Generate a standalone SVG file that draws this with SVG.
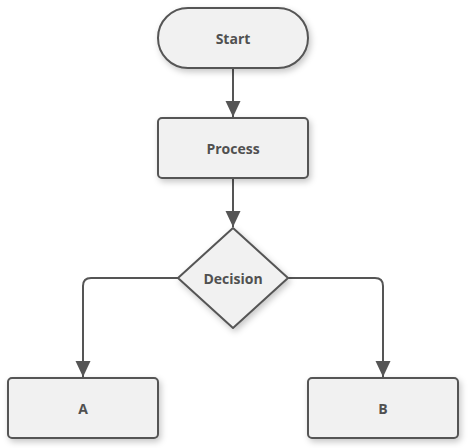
<svg xmlns="http://www.w3.org/2000/svg" width="468" height="448" viewBox="0 0 468 448">
<defs>
<filter id="sh" x="-20%" y="-20%" width="150%" height="160%">
<feDropShadow dx="2" dy="3" stdDeviation="3" flood-color="#000" flood-opacity="0.22"/>
</filter>
<marker id="arr" markerUnits="userSpaceOnUse" markerWidth="16" markerHeight="20" refX="16" refY="7.5" orient="auto" viewBox="0 0 16 15">
<path d="M0,0 L16,7.5 L0,15 Z" fill="#555"/>
</marker>
<style>
.n{fill:#f1f1f1;stroke:#555;stroke-width:2;filter:url(#sh)}
.t{font-family:"Open Sans","DejaVu Sans",sans-serif;font-weight:bold;font-size:14px;fill:#505050;text-anchor:middle;dominant-baseline:central}
.c{fill:none;stroke:#555;stroke-width:2;marker-end:url(#arr)}
</style>
</defs>
<rect width="468" height="448" fill="#fff"/>
<g id="connectors">
<path class="c" d="M233,68 L233,117"/>
<path class="c" d="M233,178 L233,227"/>
<path class="c" d="M178,278 L91,278 Q83,278 83,286 L83,377"/>
<path class="c" d="M288,278 L375,278 Q383,278 383,286 L383,377"/>
</g>
<g id="start">
<rect class="n" x="158" y="8" width="150" height="60" rx="30" ry="30"/>
<text class="t" x="233" y="38">Start</text>
</g>
<g id="process">
<rect class="n" x="158" y="118" width="150" height="60" rx="4" ry="4"/>
<text class="t" x="233" y="148">Process</text>
</g>
<g id="decision">
<path class="n" d="M233,228 L288,278 L233,328 L178,278 Z" stroke-linejoin="round"/>
<text class="t" x="233" y="278">Decision</text>
</g>
<g id="a">
<rect class="n" x="8" y="378" width="150" height="60" rx="4" ry="4"/>
<text class="t" x="83" y="408">A</text>
</g>
<g id="b">
<rect class="n" x="308" y="378" width="150" height="60" rx="4" ry="4"/>
<text class="t" x="383" y="408">B</text>
</g>
</svg>
